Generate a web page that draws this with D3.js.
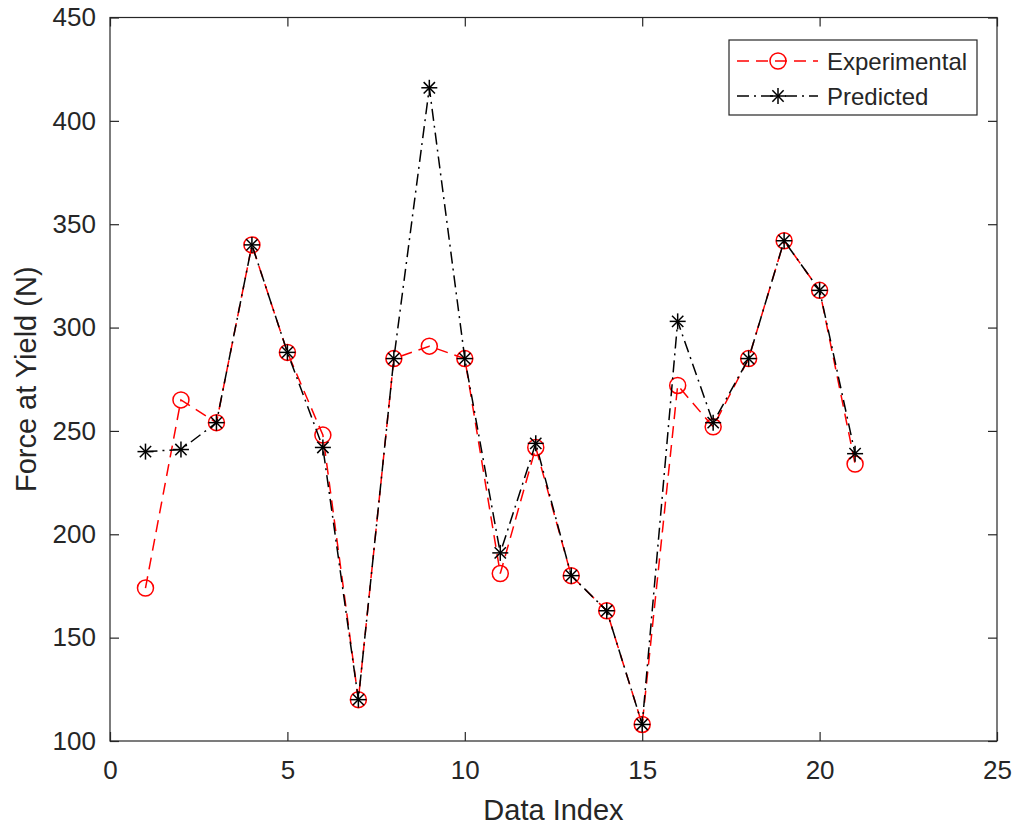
<!DOCTYPE html>
<html>
<head>
<meta charset="utf-8">
<script src="https://cdn.jsdelivr.net/npm/d3@7"></script>
<style>
  html, body { margin: 0; padding: 0; background: #fff; }
  svg { display: block; font-family: Arial, "Liberation Sans", Helvetica, sans-serif; }
</style>
</head>
<body>
<svg id="chart" width="1023" height="832"></svg>
<script>
// Data index 1..21
const dataIndex = d3.range(1, 22);
// Measured force at yield (N)
const experimental = [174, 265, 254, 340, 288, 248, 120, 285, 291, 285, 181, 242, 180, 163, 108, 272, 252, 285, 342, 318, 234];
// Model-predicted force at yield (N)
const predicted = [240, 241, 254, 340, 288, 242, 120, 285, 416, 285, 191, 244, 180, 163, 108, 303, 254, 285, 342, 318, 239];

const xTicks = [0, 5, 10, 15, 20, 25];
const yTicks = [100, 150, 200, 250, 300, 350, 400, 450];
const seriesNames = ["Experimental", "Predicted"];

const svg = d3.select("#chart");
const axisColor = "#262626";
const margin = { left: 110, right: 997, top: 17.5, bottom: 741 };

const x = d3.scaleLinear().domain([0, 25]).range([margin.left, margin.right]);
const y = d3.scaleLinear().domain([100, 450]).range([margin.bottom, margin.top]);

// Axes box with inward ticks on all four sides
const tickLen = 9;
const axes = svg.append("g");
axes.append("rect")
  .attr("x", x(0)).attr("y", y(450))
  .attr("width", x(25) - x(0)).attr("height", y(100) - y(450))
  .attr("fill", "none").attr("stroke", axisColor).attr("stroke-width", 1.2);

const bottomAxis = d3.axisBottom(x).tickValues(xTicks).tickSizeInner(-tickLen).tickSizeOuter(0).tickPadding(20);
const topAxis = d3.axisTop(x).tickValues(xTicks).tickSizeInner(-tickLen).tickSizeOuter(0).tickFormat("");
const leftAxis = d3.axisLeft(y).tickValues(yTicks).tickSizeInner(-tickLen).tickSizeOuter(0).tickPadding(14);
const rightAxis = d3.axisRight(y).tickValues(yTicks).tickSizeInner(-tickLen).tickSizeOuter(0).tickFormat("");

function styleAxis(g) {
  g.select(".domain").remove();
  g.selectAll(".tick line").attr("stroke", axisColor).attr("stroke-width", 1.2);
  g.selectAll(".tick text").attr("fill", axisColor).attr("font-size", 26).attr("font-family", "Arial, 'Liberation Sans', sans-serif");
}
axes.append("g").attr("transform", `translate(0,${y(100)})`).call(bottomAxis).call(styleAxis);
axes.append("g").attr("transform", `translate(0,${y(450)})`).call(topAxis).call(styleAxis);
axes.append("g").attr("transform", `translate(${x(0)},0)`).call(leftAxis).call(styleAxis);
axes.append("g").attr("transform", `translate(${x(25)},0)`).call(rightAxis).call(styleAxis);

// Axis labels
svg.append("text")
  .attr("x", (x(0) + x(25)) / 2).attr("y", 820)
  .attr("text-anchor", "middle").attr("font-size", 29).attr("fill", axisColor)
  .text("Data Index");
svg.append("text")
  .attr("transform", `translate(36,${(y(100) + y(450)) / 2}) rotate(-90)`)
  .attr("text-anchor", "middle").attr("font-size", 29).attr("fill", axisColor)
  .text("Force at Yield (N)");

// Markers
function circleMarker(g, cx, cy, color) {
  g.append("circle").attr("cx", cx).attr("cy", cy).attr("r", 8)
    .attr("fill", "none").attr("stroke", color).attr("stroke-width", 1.5);
}
function starMarker(g, cx, cy, color) {
  const r = 8, d = r * Math.SQRT1_2;
  const segs = [[-r, 0, r, 0], [0, -r, 0, r], [-d, -d, d, d], [-d, d, d, -d]];
  segs.forEach(s => g.append("line")
    .attr("x1", cx + s[0]).attr("y1", cy + s[1]).attr("x2", cx + s[2]).attr("y2", cy + s[3])
    .attr("stroke", color).attr("stroke-width", 1.5));
}

const series = [
  { name: seriesNames[0], values: experimental, color: "#ff0000", dash: "12,7", marker: circleMarker },
  { name: seriesNames[1], values: predicted, color: "#000000", dash: "12,5,2,5", marker: starMarker }
];

const line = d3.line().x(d => x(d[0])).y(d => y(d[1]));
const plot = svg.append("g");
series.forEach(s => {
  const pts = dataIndex.map((k, i) => [k, s.values[i]]);
  plot.append("path").datum(pts).attr("d", line)
    .attr("fill", "none").attr("stroke", s.color).attr("stroke-width", 1.5)
    .attr("stroke-dasharray", s.dash);
  const mg = plot.append("g");
  pts.forEach(p => s.marker(mg, x(p[0]), y(p[1]), s.color));
});

// Legend
const legend = svg.append("g");
legend.append("rect").attr("x", 729).attr("y", 40).attr("width", 248).attr("height", 75)
  .attr("fill", "#fff").attr("stroke", axisColor).attr("stroke-width", 1.2);
const rowY = [61, 96];
series.forEach((s, i) => {
  legend.append("line").attr("x1", 737).attr("x2", 818).attr("y1", rowY[i]).attr("y2", rowY[i])
    .attr("stroke", s.color).attr("stroke-width", 1.5).attr("stroke-dasharray", s.dash);
  s.marker(legend, 778, rowY[i], s.color);
  legend.append("text").attr("x", 827).attr("y", rowY[i] + 8.5)
    .attr("font-size", 24).attr("fill", axisColor).text(s.name);
});
</script>
</body>
</html>
